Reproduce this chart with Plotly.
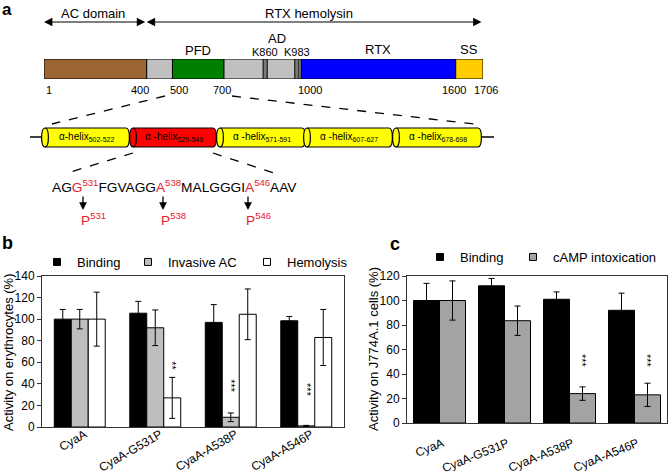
import plotly.graph_objects as go

W, H = 672, 475
FONT = "Liberation Sans, Arial, sans-serif"
RED = "#E8202A"

# ---------------- data: panel a ----------------
domain_names = ["AC domain", "linker", "PFD", "AD", "RTX", "SS"]
domain_start = [1, 400, 500, 700, 1000, 1600]
domain_end = [400, 500, 700, 1000, 1600, 1706]
domain_colors = ["#9C6634", "#C0C0C0", "#008000", "#C0C0C0", "#0000FF", "#FFCC00"]
acylation_sites = [860, 983]
residue_ticks = [1, 400, 500, 700, 1000, 1600, 1706]
helix_ranges = ["502-522", "529-549", "571-591", "607-627", "678-698"]
mutations = ["531", "538", "546"]

# ---------------- data: panel b ----------------
variants = ["CyaA", "CyaA-G531P", "CyaA-A538P", "CyaA-A546P"]
binding_ery = [100, 105.5, 97, 98.5]
binding_ery_err = [9, 11, 16.5, 4]
invasive_ac = [100, 92, 9, 1]
invasive_ac_err = [9, 16.5, 4, 0.5]
hemolysis = [100, 27, 104.5, 83]
hemolysis_err = [25, 19, 23.5, 26]
sig_b_hemolysis = ["", "**", "", ""]
sig_b_hemolysis_y = [None, 57, None, None]
sig_b_invasive = ["", "", "***", "***"]
sig_b_invasive_y = [None, None, 38, 34]

# ---------------- data: panel c ----------------
binding_j774 = [100, 112, 101, 92]
binding_j774_err = [14, 6, 6, 14]
camp = [100, 83.5, 24, 23]
camp_err = [16, 12, 5.5, 9.5]
sig_c_camp = ["", "", "***", "***"]
sig_c_camp_y = [None, None, 51, 51]


def px(x):
    return x / W


def py(y):
    return 1 - y / H


fig = go.Figure()

# ---- panel a: domain map as a horizontal stacked bar on residue axis ----
fig.add_trace(go.Bar(
    x=[e - s for s, e in zip(domain_start, domain_end)],
    base=domain_start, y=[0] * len(domain_start), orientation="h",
    width=1, marker=dict(color=domain_colors, line=dict(color="black", width=1)),
    xaxis="x3", yaxis="y3", showlegend=False, hoverinfo="skip",
))

# ---- panel b bars ----
wb = 0.225
b_series = [
    ("Binding", binding_ery, binding_ery_err, "black", -1.5 * wb),
    ("Invasive AC", invasive_ac, invasive_ac_err, "#BEBEBE", -0.5 * wb),
    ("Hemolysis", hemolysis, hemolysis_err, "white", 0.5 * wb),
]
for name, vals, errs, col, off in b_series:
    fig.add_trace(go.Bar(
        x=variants, y=vals, width=wb, offset=off, name=name,
        marker=dict(color=col, line=dict(color="black", width=1)),
        error_y=dict(type="data", array=errs, color="black", thickness=1, width=3),
        xaxis="x", yaxis="y", showlegend=False,
    ))

# ---- panel c bars ----
wc = 0.4
c_series = [
    ("Binding", binding_j774, binding_j774_err, "black", -wc),
    ("cAMP intoxication", camp, camp_err, "#A3A3A3", 0.0),
]
for name, vals, errs, col, off in c_series:
    fig.add_trace(go.Bar(
        x=variants, y=vals, width=wc, offset=off, name=name,
        marker=dict(color=col, line=dict(color="black", width=1)),
        error_y=dict(type="data", array=errs, color="black", thickness=1, width=3),
        xaxis="x2", yaxis="y2", showlegend=False,
    ))

# ---- legend entries (one legend per entry for exact placement) ----
legend_entries = [
    ("Binding", "black", "x", "y", "legend", 37, 262),
    ("Invasive AC", "#BEBEBE", "x", "y", "legend2", 128, 262),
    ("Hemolysis", "white", "x", "y", "legend3", 247, 262),
    ("Binding", "black", "x2", "y2", "legend4", 420, 257),
    ("cAMP intoxication", "#A3A3A3", "x2", "y2", "legend5", 513, 257),
]
legend_layout = {}
for name, col, xa, ya, lg, lx, ly in legend_entries:
    fig.add_trace(go.Scatter(
        x=[None], y=[None], mode="markers", name=name,
        marker=dict(symbol="square", size=7, color=col, line=dict(color="black", width=1)),
        xaxis=xa, yaxis=ya, legend=lg, showlegend=True,
    ))
    legend_layout[lg] = dict(
        x=px(lx), y=py(ly), xanchor="left", yanchor="middle",
        orientation="h", bgcolor="rgba(0,0,0,0)", borderwidth=0,
        font=dict(family=FONT, size=13, color="black"),
    )

# ---------------- shapes ----------------
shapes = []
for s in acylation_sites:
    shapes.append(dict(type="rect", xref="x3", yref="y3", x0=s - 8, x1=s + 8, y0=-0.5, y1=0.5,
                       fillcolor="#7A7A7A", line=dict(color="black", width=1)))
for (x0, y0, x1, y1) in [(165, 96, 52, 124), (232, 96, 474, 124),
                         (133, 153, 67, 173), (213, 153, 280, 175)]:
    shapes.append(dict(type="line", xref="x4", yref="y4", x0=x0, y0=y0, x1=x1, y1=y1,
                       line=dict(color="black", width=1.3, dash="dash")))
shapes.append(dict(type="line", xref="x4", yref="y4", x0=30, y0=137, x1=494, y1=137,
                   line=dict(color="black", width=1.3)))
helix_x0 = [45, 133, 220, 307, 396]
helix_x1 = [126, 213, 302, 389, 478]
helix_fill = ["#FFFF00", "#FF0000", "#FFFF00", "#FFFF00", "#FFFF00"]
yt, yb, k = 128, 147, 4.5
for x0, x1, fc in zip(helix_x0, helix_x1, helix_fill):
    path = (f"M{x0},{yt} L{x1},{yt} C{x1 + k},{yt} {x1 + k},{yb} {x1},{yb} "
            f"L{x0},{yb} C{x0 - k},{yb} {x0 - k},{yt} {x0},{yt} Z")
    shapes.append(dict(type="path", xref="x4", yref="y4", path=path, fillcolor=fc,
                       line=dict(color="black", width=1.2)))
    shapes.append(dict(type="path", xref="x4", yref="y4",
                       path=f"M{x0},{yt} C{x0 + k},{yt} {x0 + k},{yb} {x0},{yb}",
                       line=dict(color="black", width=1.2)))

# ---------------- annotations ----------------
ann = []


def T(text, x, y, size=13, xref="x4", yref="y4", **kw):
    d = dict(text=text, x=x, y=y, xref=xref, yref=yref, showarrow=False,
             xanchor="center", yanchor="middle",
             font=dict(family=FONT, size=size, color=kw.pop("color", "black")))
    d.update(kw)
    ann.append(d)


T("<b>a</b>", 7, 9, size=17)
T("<b>b</b>", 7, 243, size=18)
T("<b>c</b>", 395, 244, size=18)

for a0, a1 in [(domain_start[0], domain_end[0]), (domain_end[0], domain_end[-1])]:
    ann.append(dict(x=a0, y=22, ax=a1, ay=22, xref="x3", yref="y4", axref="x3", ayref="y4",
                    text="", showarrow=True, arrowhead=2, arrowside="end+start",
                    arrowsize=1.4, arrowwidth=1.2, arrowcolor="black", standoff=0, startstandoff=0))
T("AC domain", 93, 13)
T("RTX hemolysin", 309, 13)

T("PFD", (domain_start[2] + domain_end[2]) / 2, 50, xref="x3")
T("AD", 277, 38)
for s in acylation_sites:
    T(f"K{s}", s, 52, size=11, xref="x3")
T("RTX", (domain_start[4] + domain_end[4]) / 2, 49, xref="x3")
T("SS", (domain_start[5] + domain_end[5]) / 2, 49, xref="x3")

shifts = [5, -7, 7, -2, 9, -2, 3]
for r, sh in zip(residue_ticks, shifts):
    T(str(r), r, 90, size=11, xref="x3", xshift=sh)

for i, (x0, x1, rng) in enumerate(zip(helix_x0, helix_x1, helix_ranges)):
    sep = "α-helix" if i == 0 else "α -helix"
    T(f"{sep}<sub>{rng}</sub>", (x0 + x1) / 2 + 1, 137, size=10)


def red(t):
    return f"<span style='color:{RED}'>{t}</span>"


seq = (f"AG{red('G<sup>' + mutations[0] + '</sup>')}FGVAGG"
       f"{red('A<sup>' + mutations[1] + '</sup>')}MALGGGI"
       f"{red('A<sup>' + mutations[2] + '</sup>')}AAV")
T(seq, 174, 186, size=13.7)

for xm, m in zip([83, 163, 248], mutations):
    ann.append(dict(x=xm, y=210, ax=xm, ay=195, xref="x4", yref="y4", axref="x4", ayref="y4",
                    text="", showarrow=True, arrowhead=2, arrowsize=1.2, arrowwidth=1.3,
                    arrowcolor="black", standoff=0))
    T(f"P<sup>{m}</sup>", xm - 4, 219, size=13.7, xanchor="left", color=RED)

T("Activity on erythrocytes (%)", 8, 352, size=13, textangle=-90)
T("Activity on J774A.1 cells (%)", 373, 349, size=13, textangle=-90)

for i, (s, yv) in enumerate(zip(sig_b_hemolysis, sig_b_hemolysis_y)):
    if s:
        T(s, i + wb, yv, size=11, xref="x", yref="y", textangle=90)
for i, (s, yv) in enumerate(zip(sig_b_invasive, sig_b_invasive_y)):
    if s:
        T(s, i, yv, size=11, xref="x", yref="y", textangle=90)
for i, (s, yv) in enumerate(zip(sig_c_camp, sig_c_camp_y)):
    if s:
        T(s, i + 0.5 * wc, yv, size=11, xref="x2", yref="y2", textangle=90)

axis_common = dict(showline=True, linecolor="#333333", linewidth=1, mirror=True,
                   showgrid=False, zeroline=False, automargin=False)
tickf = dict(family=FONT, size=12, color="black")

fig.update_layout(
    width=W, height=H, margin=dict(l=0, r=0, t=0, b=0, pad=0, autoexpand=False),
    paper_bgcolor="white", plot_bgcolor="rgba(0,0,0,0)",
    barmode="overlay", font=dict(family=FONT, color="black"),
    xaxis=dict(domain=[px(42), px(344)], anchor="y", type="category",
               categoryorder="array", categoryarray=variants, range=[-0.5, 3.5],
               ticks="", tickangle=-30, ticklabelstandoff=-5, ticklabelshift=5,
               tickfont=tickf, **axis_common),
    yaxis=dict(domain=[py(427), py(276)], anchor="x", range=[0, 140], dtick=20,
               ticks="outside", ticklen=4, tickcolor="#333333", tickfont=tickf, **axis_common),
    xaxis2=dict(domain=[px(407), px(667)], anchor="y2", type="category",
                categoryorder="array", categoryarray=variants, range=[-0.5, 3.5],
                ticks="", tickangle=-22, ticklabelstandoff=8, ticklabelshift=3,
                tickfont=tickf, **axis_common),
    yaxis2=dict(domain=[py(423), py(276)], anchor="x2", range=[0, 120], dtick=20,
                ticks="outside", ticklen=4, tickcolor="#333333", tickfont=tickf, **axis_common),
    xaxis3=dict(domain=[px(44), px(483)], anchor="y3", range=[1, 1706], visible=False),
    yaxis3=dict(domain=[py(79), py(59)], anchor="x3", range=[-0.5, 0.5], visible=False),
    xaxis4=dict(domain=[0, 1], anchor="y4", range=[0, W], visible=False),
    yaxis4=dict(domain=[0, 1], anchor="x4", range=[H, 0], visible=False),
    shapes=shapes, annotations=ann,
    **legend_layout,
)

fig.write_html(
    "out.html",
    config={"displayModeBar": False},
    post_script="document.body.style.margin='0';document.body.style.padding='0';",
)
